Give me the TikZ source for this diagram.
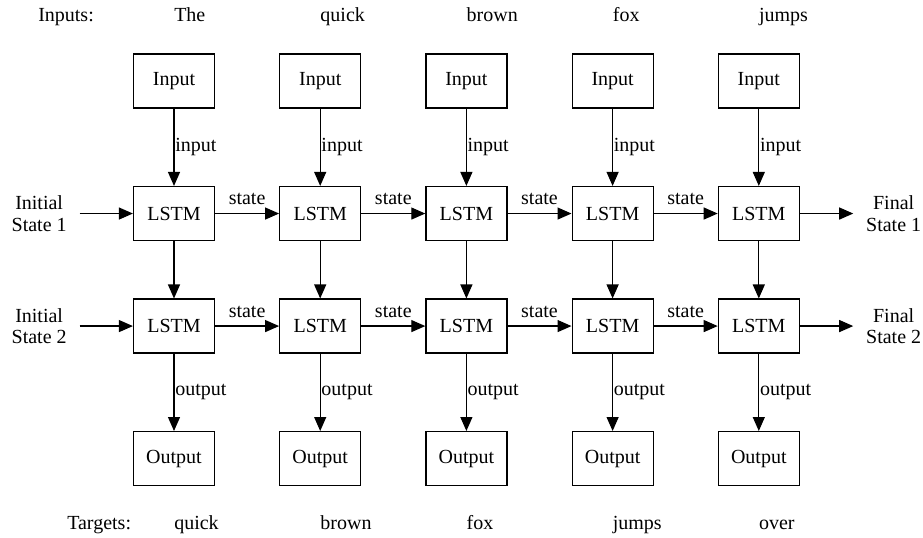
\documentclass[tikz,border=0pt]{standalone}
\usepackage{fontspec}
\setmainfont{Liberation Serif}
\usetikzlibrary{positioning}
\usetikzlibrary{arrows.meta}

\begin{document}
\begin{tikzpicture}[x=0.75pt, y=-0.75pt,
  every node/.style={font=\fontsize{15}{16}\selectfont},
  node distance=58pt and 48pt,
  box/.style={draw, rectangle, line width=0.9pt, minimum width=60.75pt, minimum height=40.5pt},
  word/.style={anchor=base west, inner sep=0pt},
  side/.style={align=center, inner xsep=9.5pt},
  tag/.style={right, inner sep=0.5pt},
  flow/.style={-{Triangle[length=10.5pt,width=9pt]}, line width=0.9pt}]
  \useasboundingbox (0,0) rectangle (923,538);

  \node[box] (in1) at (174,81) {Input};
  \node[box, right=of in1] (in2) {Input};
  \node[box, right=of in2] (in3) {Input};
  \node[box, right=of in3] (in4) {Input};
  \node[box, right=of in4] (in5) {Input};

  \node[box, below=of in1] (la1) {LSTM};
  \node[box, below=of in2] (la2) {LSTM};
  \node[box, below=of in3] (la3) {LSTM};
  \node[box, below=of in4] (la4) {LSTM};
  \node[box, below=of in5] (la5) {LSTM};

  \node[box, below=43pt of la1] (lb1) {LSTM};
  \node[box, below=43pt of la2] (lb2) {LSTM};
  \node[box, below=43pt of la3] (lb3) {LSTM};
  \node[box, below=43pt of la4] (lb4) {LSTM};
  \node[box, below=43pt of la5] (lb5) {LSTM};

  \node[box, below=of lb1] (out1) {Output};
  \node[box, below=of lb2] (out2) {Output};
  \node[box, below=of lb3] (out3) {Output};
  \node[box, below=of lb4] (out4) {Output};
  \node[box, below=of lb5] (out5) {Output};

  \node[side, left=40pt of la1] (init1) {Initial\\State 1};
  \node[side, left=40pt of lb1] (init2) {Initial\\State 2};
  \node[side, right=40pt of la5] (fin1) {Final\\State 1};
  \node[side, right=40pt of lb5] (fin2) {Final\\State 2};

  % word rows
  \node[word] (hin) at (38,22) {Inputs:};
  \node[word] (w1) at (in1 |- 0,22) {The};
  \node[word] (w2) at (in2 |- 0,22) {quick};
  \node[word] (w3) at (in3 |- 0,22) {brown};
  \node[word] (w4) at (in4 |- 0,22) {fox};
  \node[word] (w5) at (in5 |- 0,22) {jumps};
  \node[word] (htg) at (67,529) {Targets:};
  \node[word] (t1) at (out1 |- 0,529) {quick};
  \node[word] (t2) at (out2 |- 0,529) {brown};
  \node[word] (t3) at (out3 |- 0,529) {fox};
  \node[word] (t4) at (out4 |- 0,529) {jumps};
  \node[word] (t5) at (out5 |- 0,529) {over};

  \path[flow] (in1) edge node[tag] {input} (la1);
  \path[flow] (in2) edge node[tag] {input} (la2);
  \path[flow] (in3) edge node[tag] {input} (la3);
  \path[flow] (in4) edge node[tag] {input} (la4);
  \path[flow] (in5) edge node[tag] {input} (la5);

  \path[flow] (la1) edge (lb1);
  \path[flow] (la2) edge (lb2);
  \path[flow] (la3) edge (lb3);
  \path[flow] (la4) edge (lb4);
  \path[flow] (la5) edge (lb5);

  \path[flow] (lb1) edge node[tag] {output} (out1);
  \path[flow] (lb2) edge node[tag] {output} (out2);
  \path[flow] (lb3) edge node[tag] {output} (out3);
  \path[flow] (lb4) edge node[tag] {output} (out4);
  \path[flow] (lb5) edge node[tag] {output} (out5);

  \path[flow] (init1) edge (la1);
  \path[flow] (la1) edge node[above=2.5pt] {state} (la2);
  \path[flow] (la2) edge node[above=2.5pt] {state} (la3);
  \path[flow] (la3) edge node[above=2.5pt] {state} (la4);
  \path[flow] (la4) edge node[above=2.5pt] {state} (la5);
  \path[flow] (la5) edge (fin1);

  \path[flow] (init2) edge (lb1);
  \path[flow] (lb1) edge node[above=2.5pt] {state} (lb2);
  \path[flow] (lb2) edge node[above=2.5pt] {state} (lb3);
  \path[flow] (lb3) edge node[above=2.5pt] {state} (lb4);
  \path[flow] (lb4) edge node[above=2.5pt] {state} (lb5);
  \path[flow] (lb5) edge (fin2);
\end{tikzpicture}
\end{document}
